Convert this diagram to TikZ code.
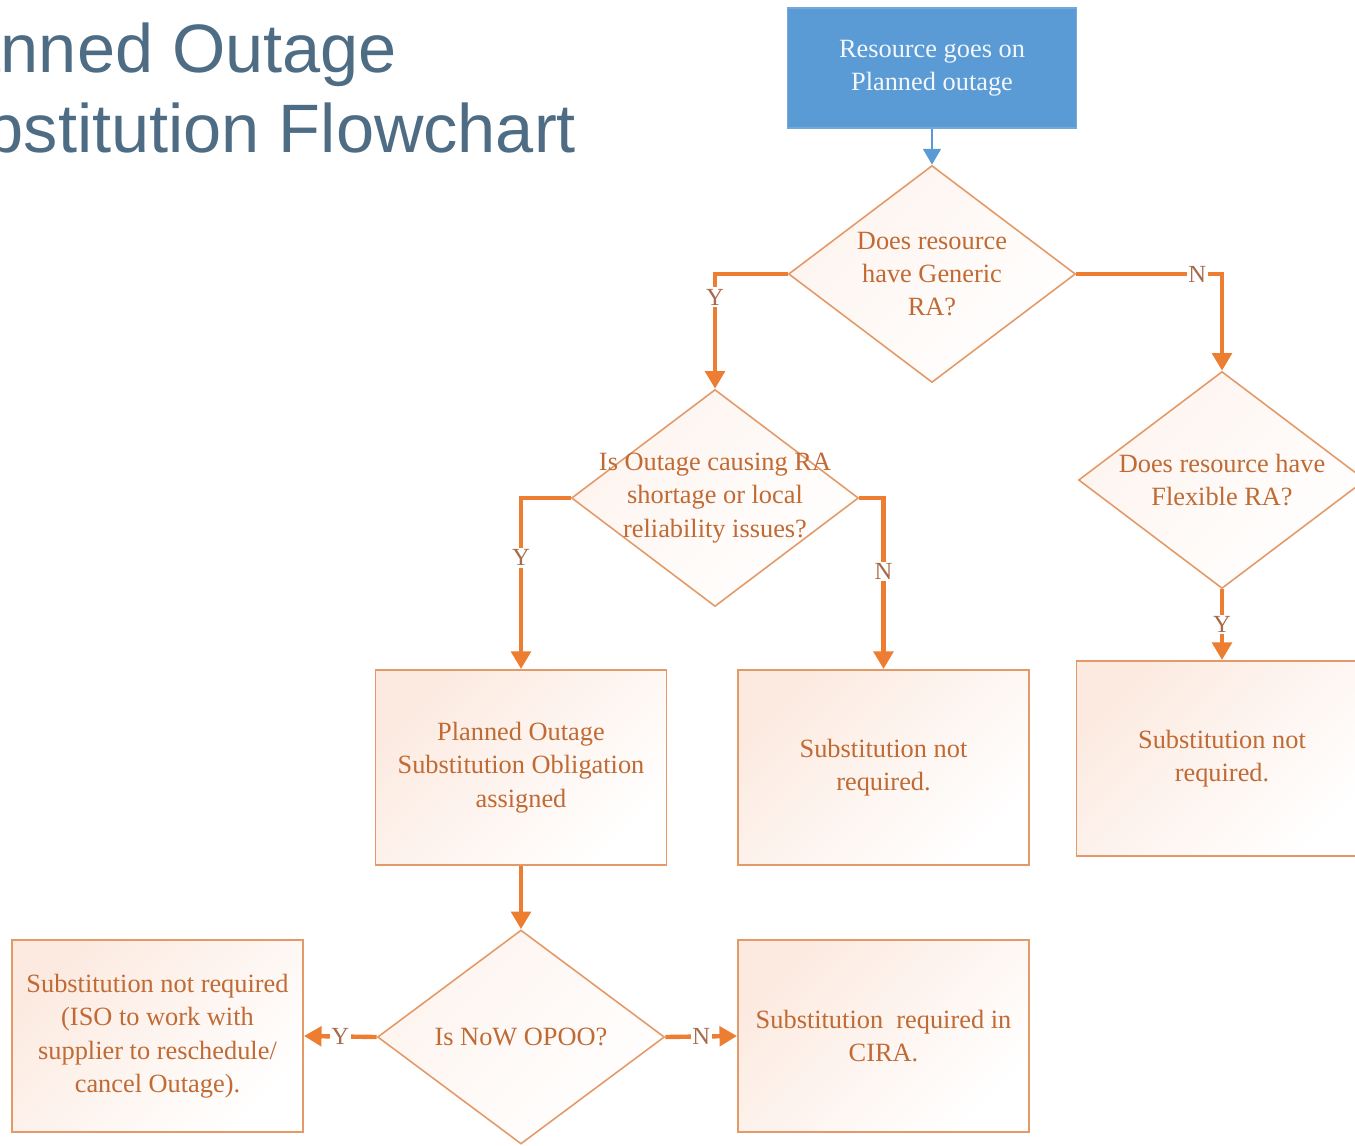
\documentclass[tikz,border=0pt]{standalone}
\usepackage{fontspec}
\setmainfont{Liberation Serif}
\newfontfamily\titlefont{Liberation Sans}
\usetikzlibrary{shapes.geometric,arrows.meta}
\definecolor{lineorange}{HTML}{ED7D31}
\definecolor{edgeorange}{HTML}{E39A68}
\definecolor{textorange}{HTML}{C06A34}
\definecolor{tintorange}{HTML}{FBE3D6}
\definecolor{startblue}{HTML}{5B9BD5}
\definecolor{titlegray}{HTML}{4E6D84}
\definecolor{labelbrown}{HTML}{A56B4A}
\tikzset{
  titletext/.style={
    anchor=base west, inner sep=0pt, text=titlegray,
    font=\titlefont\fontsize{39}{45}\selectfont
  },
  startbox/.style={
    fill=startblue, draw=startblue!85!white, line width=0.8pt, rectangle,
    minimum width=5.78cm, minimum height=2.4cm, text=white!92!startblue,
    font=\fontsize{15}{19}\selectfont, align=center
  },
  decision/.style={
    draw=edgeorange, line width=0.9pt, diamond, inner sep=0pt,
    minimum width=5.74cm, minimum height=4.34cm,
    top color=tintorange!40, bottom color=white, shading angle=45
  },
  process/.style={
    draw=edgeorange, line width=1.1pt, rectangle, minimum width=5.82cm,
    minimum height=3.9cm, top color=tintorange!75, bottom color=white,
    shading angle=45, text=textorange, font=\fontsize{15}{19}\selectfont,
    align=center
  },
  qtext/.style={
    text=textorange, font=\fontsize{15}{19}\selectfont, align=center,
    inner sep=0pt
  },
  yn/.style={
    fill=white, text=labelbrown, font=\fontsize{14}{16}\selectfont,
    inner sep=1pt
  },
  flow/.style={
    draw=lineorange, line width=2.5pt,
    -{Triangle[length=10pt,width=11pt]}
  },
  bflow/.style={
    draw=startblue, line width=1.6pt,
    -{Triangle[length=9pt,width=10pt]}
  }
}
\begin{document}
\begin{tikzpicture}
 \useasboundingbox (0,0) rectangle (27.1,-22.92);
 \clip (0,0) rectangle (27.1,-22.92);

 % title
 \node[titletext] (title1) at (-1.97,-1.44) {Planned Outage};
 \node[titletext] (title2) at (-1.97,-3.04) {Substitution Flowchart};

 % boxes and decisions
 \node[startbox] (start) at (18.64,-1.36) {Resource goes on\\Planned outage};
 \node[decision] (gen) at (18.64,-5.48) {};
 \node[qtext] (gent) at (gen) {Does resource\\have Generic\\RA?};
 \node[decision] (outage) at (14.3,-9.96) {};
 \node[qtext] (outaget) at (outage) {Is Outage causing RA\\shortage or local\\reliability issues?};
 \node[decision] (flex) at (24.44,-9.6) {};
 \node[qtext] (flext) at (flex) {Does resource have\\Flexible RA?};
 \node[process] (oblig) at (10.42,-15.35) {Planned Outage\\Substitution Obligation\\assigned};
 \node[process] (notreqb) at (17.67,-15.35) {Substitution not\\required.};
 \node[process] (notreqc) at (24.44,-15.17) {Substitution not\\required.};
 \node[decision, minimum height=4.28cm] (now) at (10.42,-20.74) {};
 \node[qtext] (nowt) at (now) {Is NoW OPOO?};
 \node[process, minimum height=3.84cm] (resched) at (3.15,-20.72)
   {Substitution not required\\(ISO to work with\\supplier to reschedule/\\cancel Outage).};
 \node[process, minimum height=3.84cm] (cira) at (17.67,-20.72)
   {Substitution\ \ required in\\CIRA.};

 % connectors
 \draw[bflow] (start) -- (gen);
 \draw[flow] (gen.west) -| node[yn, pos=0.6] (y1) {Y} (outage.north);
 \draw[flow] (gen.east) -| node[yn, pos=0.415] (n1) {N} (flex.north);
 \draw[flow] (outage.west) -| node[yn, pos=0.675] (y2) {Y} (oblig.north);
 \draw[flow] (outage.east) -| node[yn, pos=0.715] (n2) {N} (notreqb.north);
 \draw[flow] (flex.south) -- node[yn] (y3) {Y} (notreqc.north);
 \draw[flow] (oblig.south) -- (now.north);
 \draw[flow] (now.west) -- node[yn] (y4) {Y} (resched.east);
 \draw[flow] (now.east) -- node[yn] (n4) {N} (cira.west);

\end{tikzpicture}
\end{document}
